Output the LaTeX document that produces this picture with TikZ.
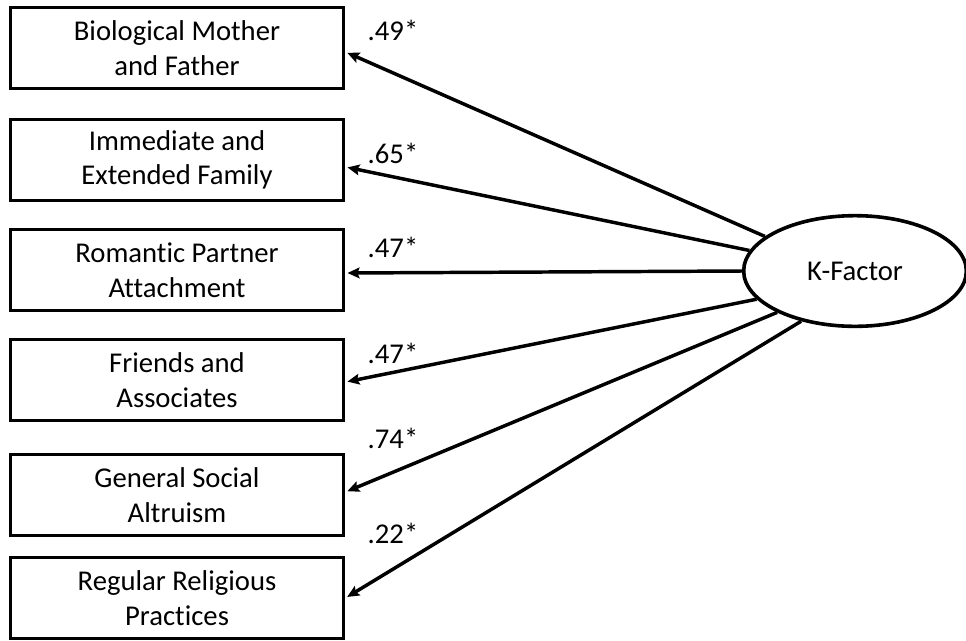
\documentclass[tikz,border=0pt]{standalone}
\usepackage{fontspec}
\setmainfont{Carlito}[Ligatures=NoCommon]
\usepackage{tikz}
\usetikzlibrary{shapes,arrows.meta}
\tikzstyle{block}=[rectangle, draw, line width=2.7pt, align=center,
                   minimum height=61pt, minimum width=250pt,
                   inner sep=0pt, font=\fontsize{21.5}{26}\selectfont]
\tikzstyle{line} =[draw, -{Stealth[length=9pt, width=8pt, inset=1.5pt]},
                   line width=2.6pt, shorten >=1.5pt]
\tikzstyle{factor} = [draw, ellipse, line width=2.7pt, minimum width=167pt,
                      minimum height=83pt, inner sep=0pt, font=\fontsize{21.5}{26}\selectfont]
\tikzstyle{load} = [font=\fontsize{21.5}{26}\selectfont]

\begin{document}
\begin{tikzpicture}[x=0.75pt, y=-0.75pt]
    \useasboundingbox (0,0) rectangle (966,640);
    \node [block] at (177,48)  (bio)    {Biological Mother\\and Father};
    \node [block] at (177,160) (family) {Immediate and\\Extended Family};
    \node [block] at (177,270) (partner){Romantic Partner\\Attachment};
    \node [block] at (177,380) (friends){Friends and\\Associates};
    \node [block] at (177,495) (social) {General Social\\Altruism};
    \node [block] at (177,598) (relig)  {Regular Religious\\Practices};
    \node [factor] at (855,271) (k) {K-Factor};
    \node [load] at (393,30)  (lbio)     {.49*};
    \node [load] at (393,153) (lfamily)  {.65*};
    \node [load] at (393,247) (lpartner) {.47*};
    \node [load] at (393,353) (lfriends) {.47*};
    \node [load] at (393,438) (lsocial)  {.74*};
    \node [load] at (393,533) (lrelig)   {.22*};
    \path [line] (k.159) -- ([yshift=-3pt]bio.east);
    \path [line] (k.169) -- ([yshift=-5.25pt]family.east);
    \path [line] (k.180) -- ([yshift=-2.25pt]partner.east);
    \path [line] (k.196) -- ([yshift=-1.5pt]friends.east);
    \path [line] (k.208) -- ([yshift=2.25pt]social.east);
    \path [line] (k.223) -- (relig.east);
\end{tikzpicture}
\end{document}
